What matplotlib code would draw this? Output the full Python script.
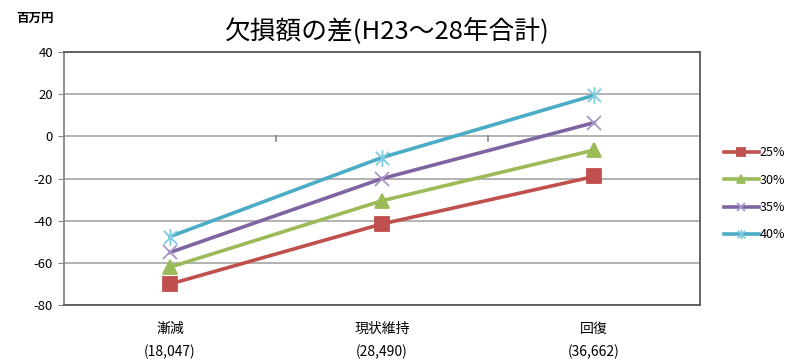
import matplotlib.pyplot as plt
from matplotlib.path import Path

plt.rcParams['font.family'] = ['Noto Sans CJK JP', 'DejaVu Sans']
plt.rcParams['axes.unicode_minus'] = False

categories = ['漸減\n(18,047)', '現状維持\n(28,490)', '回復\n(36,662)']
series_names = ['25%', '30%', '35%', '40%']
rate_25 = [-70, -41.5, -19]
rate_30 = [-62, -30.5, -6.5]
rate_35 = [-55, -20, 6.5]
rate_40 = [-47.5, -10, 19.5]

colors = ['#C0504D', '#9BBB59', '#8064A2', '#4BACC6']
edge_colors = ['#C0504D', '#9BBB59', '#A896C8', '#7FCBDF']

# Excel-style star: a vertical stroke plus an X
star = Path([(0, -1), (0, 1), (-0.8, -0.8), (0.8, 0.8), (-0.8, 0.8), (0.8, -0.8)],
            [Path.MOVETO, Path.LINETO, Path.MOVETO, Path.LINETO, Path.MOVETO, Path.LINETO])
markers = ['s', '^', 'x', star]
sizes = [10, 10, 10, 12]

fig = plt.figure(figsize=(7.9, 3.59), dpi=100)
ax = fig.add_axes([0.081, 0.150, 0.805, 0.705])

x = [0, 1, 2]
for vals, name, c, ec, m, s in zip([rate_25, rate_30, rate_35, rate_40], series_names,
                                  colors, edge_colors, markers, sizes):
    ax.plot(x, vals, color=c, lw=2.6, marker=m, markersize=s,
            markerfacecolor=c, markeredgecolor=ec, markeredgewidth=1.3,
            label=name, zorder=3)

ax.set_xlim(-0.5, 2.5)
ax.set_ylim(-80, 40)
ax.set_yticks(range(-80, 41, 20))
ax.grid(axis='y', color='#A6A6A6', lw=1.2)
ax.set_axisbelow(True)
ax.tick_params(axis='y', direction='out', length=4, color='#868686',
               labelsize=9.5, pad=4)

# categories sit along the bottom, with the category ticks drawn on the zero line
ax.set_xticks(x)
ax.set_xticklabels(categories, fontsize=10, linespacing=1.75)
ax.tick_params(axis='x', length=0, pad=12)
for b in [0.5, 1.5]:
    ax.plot([b, b], [0, -2.2], color='#868686', lw=1.2, zorder=2)

for side in ['top', 'right', 'bottom']:
    ax.spines[side].set_color('#595959')
    ax.spines[side].set_linewidth(1.3)
ax.spines['left'].set_color('#868686')
ax.spines['left'].set_linewidth(1.3)

fig.text(0.49, 0.915, '欠損額の差(H23〜28年合計)', ha='center', va='center', fontsize=18.5)
fig.text(0.02, 0.95, '百万円', ha='left', va='center', fontsize=9, fontweight='bold')

leg = fig.legend(loc='center left', bbox_to_anchor=(0.905, 0.46), frameon=False,
                 fontsize=9, handlelength=2.8, handletextpad=0.1,
                 labelspacing=1.15, markerscale=0.55, borderaxespad=0.3)

fig.savefig('out.png', dpi=100)
